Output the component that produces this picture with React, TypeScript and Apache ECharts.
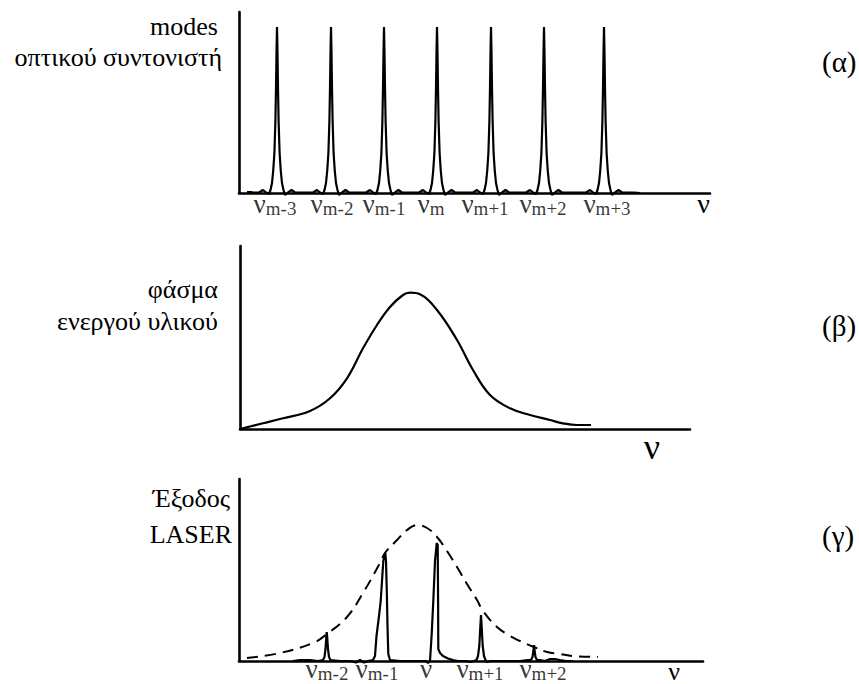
import React, { useEffect, useRef } from "react";
import * as echarts from "echarts";

const FONT = "Liberation Serif, DejaVu Serif, serif";

// ---------- Panel (α): resonator modes ----------
const alphaPeakCenters = [38, 92, 145, 198, 252, 305, 365];
// one mode profile (offset from mode centre, height)
const alphaPeakShape: [number, number][] = [
  [-24, 0.5], [-18, 0.5], [-14, 3], [-11, 0.5], [-8, -1], [-6.5, 3], [-5, 10],
  [-3.8, 22], [-2.6, 40], [-1.6, 72], [-1, 105], [-0.5, 140], [0, 166],
  [0.5, 140], [1, 105], [1.6, 72], [2.6, 40], [3.8, 22], [5, 10], [6.5, 3],
  [8, -2], [11, 0.5], [14.5, 3], [18, 0.5], [24, 0.5],
];
const alphaLeadIn: [number, number][] = [[8, 1], [12, 1]];
const alphaTail: [number, number][] = [[395, 0.5], [401, 0]];
const alphaLabelX = [36, 93, 145, 192, 246, 304, 368];
const alphaLabelSubs = ["m-3", "m-2", "m-1", "m", "m+1", "m+2", "m+3"];

// ---------- Panel (β): gain medium spectrum ----------
const betaCurve: [number, number][] = [
  [0, 0], [23, 5.7], [43, 10.7], [70, 18], [90, 30.7], [107, 50.7], [123, 80.7],
  [137, 104], [150, 122], [163, 134], [170, 136.3], [180, 134.7], [197, 119],
  [217, 89], [233, 59], [250, 34], [270, 20.7], [290, 14], [310, 9], [323, 5.7],
  [337, 4], [351, 4],
];

// ---------- Panel (γ): laser output ----------
const gammaEnvelope: [number, number][] = [
  [8, 3], [41, 8], [74, 18], [88, 27], [108, 44], [124, 68], [141, 98], [146, 108],
  [158, 121], [168, 131], [178, 136], [188, 133], [198, 124], [208, 110], [218, 94],
  [228, 77], [238, 61], [244, 50], [258, 34], [271, 25], [281, 20], [295, 14],
  [308, 9], [321, 7], [334, 5], [359, 4],
];
const gammaOutput: [number, number][] = [
  [54, 0], [61, 1], [71, 1], [79, 0], [84, 1], [85.5, 4], [86.5, 12], [87.3, 24],
  [87.7, 29], [88.2, 24], [89, 12], [90, 4], [91.5, 1], [101, 0], [111, 0],
  [117, -1.5], [121, 1], [125, -1.5], [129, 0], [134, 1], [136, 5], [137.5, 25],
  [140, 45], [141.7, 60], [143, 80], [144.3, 100], [145.5, 106], [146.3, 108],
  [147, 100], [147.8, 70], [148.5, 35], [149.3, 7], [151, 1], [161, 0], [171, 0],
  [181, 0], [187, 0], [189, -2], [191, 0], [192.7, 27], [194.3, 60], [196, 100],
  [197.7, 118], [198.7, 116], [199.1, 60], [199.3, 12], [201, 8], [204, 5],
  [209, 2.5], [214, 1], [219, 0], [227, 0], [231, -1], [235, 0], [237.5, 1],
  [239, 5], [240.3, 15], [241.2, 32], [242, 46], [242.8, 32], [243.7, 15],
  [245, 5], [246.5, 1], [248, -1], [251, 0], [261, 0], [271, 0], [281, 0],
  [289, 1], [292, 1], [293.5, 4], [294.4, 10], [295, 16], [295.6, 10], [296.5, 4],
  [298, 1], [301, 1], [306, 0], [311, 2], [316, 2], [321, 1], [327, 0], [334, 0],
];
const gammaLabelX = [88, 138, 187, 241, 304];
const gammaLabelSubs = ["m-2", "m-1", "", "m+1", "m+2"];

// ---------- layout ----------
const grids = [
  { left: 239, top: 12, width: 471, height: 181 },
  { left: 240, top: 246, width: 450, height: 183 },
  { left: 239, top: 479, width: 464, height: 182 },
];
const axisNames = [
  { size: 28, gap: 0, pad: 0 },
  { size: 36, gap: -30, pad: 8 },
  { size: 26, gap: -23, pad: 0 },
];

const sideTexts = [
  { text: "modes", x: 218, y: 26 },
  { text: "οπτικού συντονιστή", x: 222, y: 57 },
  { text: "φάσμα", x: 218, y: 289 },
  { text: "ενεργού υλικού", x: 218, y: 321 },
  { text: "Έξοδος", x: 230, y: 498 },
  { text: "LASER", x: 232, y: 534 },
];
const panelTags = [
  { text: "(α)", y: 62 },
  { text: "(β)", y: 326 },
  { text: "(γ)", y: 536 },
];

const axisLineStyle = { color: "#000", width: 2.6 };
const curveStyle = { color: "#000", width: 2.2 };

const richLabel = {
  n: { fontFamily: FONT, fontSize: 27, lineHeight: 22, verticalAlign: "bottom", color: "#000" },
  s: { fontFamily: FONT, fontSize: 19, lineHeight: 10, verticalAlign: "bottom", color: "#000" },
};

function labelSeries(idx: number, xs: number[], subs: string[], dist: number) {
  return {
    type: "scatter",
    xAxisIndex: idx,
    yAxisIndex: idx,
    symbolSize: 1,
    itemStyle: { color: "transparent" },
    silent: true,
    clip: false,
    data: xs.map((x, i) => ({ value: [x, 0], sub: subs[i] })),
    label: {
      show: true,
      position: "bottom",
      distance: dist,
      formatter: (p: any) => (p.data.sub ? `{n|ν}{s|${p.data.sub}}` : "{n|ν}"),
      rich: richLabel,
    },
  };
}

export default function App() {
  const ref = useRef<HTMLDivElement>(null);
  useEffect(() => {
    if (!ref.current) return;
    const chart = echarts.init(ref.current, undefined, { renderer: "svg" });

    const alphaData: [number, number][] = [
      ...alphaLeadIn,
      ...alphaPeakCenters.flatMap((c) => alphaPeakShape.map(([dx, h]) => [c + dx, h] as [number, number])),
      ...alphaTail,
    ];

    const option: any = {
      animation: false,
      backgroundColor: "#fff",
      textStyle: { fontFamily: FONT },
      grid: grids.map((g) => ({ ...g, containLabel: false, outerBoundsMode: "none" })),
      xAxis: grids.map((g, i) => ({
        gridIndex: i,
        type: "value",
        min: 0,
        max: g.width,
        axisLine: { show: true, onZero: false, lineStyle: axisLineStyle },
        axisTick: { show: false },
        axisLabel: { show: false },
        splitLine: { show: false },
        name: "ν",
        nameLocation: "end",
        nameGap: axisNames[i].gap,
        nameTextStyle: {
          fontFamily: FONT,
          fontSize: axisNames[i].size,
          color: "#000",
          align: "right",
          verticalAlign: "top",
          lineHeight: 20,
          padding: [axisNames[i].pad, 0, 0, 0],
        },
      })),
      yAxis: grids.map((g, i) => ({
        gridIndex: i,
        type: "value",
        min: 0,
        max: g.height,
        axisLine: { show: true, onZero: false, lineStyle: axisLineStyle },
        axisTick: { show: false },
        axisLabel: { show: false },
        splitLine: { show: false },
      })),
      series: [
        {
          type: "line",
          xAxisIndex: 0,
          yAxisIndex: 0,
          data: alphaData,
          symbol: "none",
          clip: false,
          silent: true,
          lineStyle: curveStyle,
        },
        labelSeries(0, alphaLabelX, alphaLabelSubs, 2),
        {
          type: "line",
          xAxisIndex: 1,
          yAxisIndex: 1,
          data: betaCurve,
          symbol: "none",
          smooth: 0.4,
          clip: false,
          silent: true,
          lineStyle: curveStyle,
        },
        {
          type: "line",
          xAxisIndex: 2,
          yAxisIndex: 2,
          data: gammaEnvelope,
          symbol: "none",
          smooth: 0.4,
          clip: false,
          silent: true,
          lineStyle: { color: "#000", width: 2, type: [11, 7] },
        },
        {
          type: "line",
          xAxisIndex: 2,
          yAxisIndex: 2,
          data: gammaOutput,
          symbol: "none",
          clip: false,
          silent: true,
          lineStyle: curveStyle,
        },
        labelSeries(2, gammaLabelX, gammaLabelSubs, -1),
      ],
      graphic: [
        ...sideTexts.map((t) => ({
          type: "text",
          x: t.x,
          y: t.y,
          silent: true,
          style: {
            text: t.text,
            fontFamily: FONT,
            fontSize: 26,
            fill: "#000",
            align: "right",
            verticalAlign: "middle",
          },
        })),
        ...panelTags.map((t) => ({
          type: "text",
          x: 822,
          y: t.y,
          silent: true,
          style: {
            text: t.text,
            fontFamily: FONT,
            fontSize: 29,
            fill: "#000",
            align: "left",
            verticalAlign: "middle",
          },
        })),
      ],
    };
    chart.setOption(option);
    return () => chart.dispose();
  }, []);
  return (
    <div
      ref={ref}
      style={{ position: "absolute", left: 0, top: 0, width: 859, height: 684 }}
    />
  );
}
